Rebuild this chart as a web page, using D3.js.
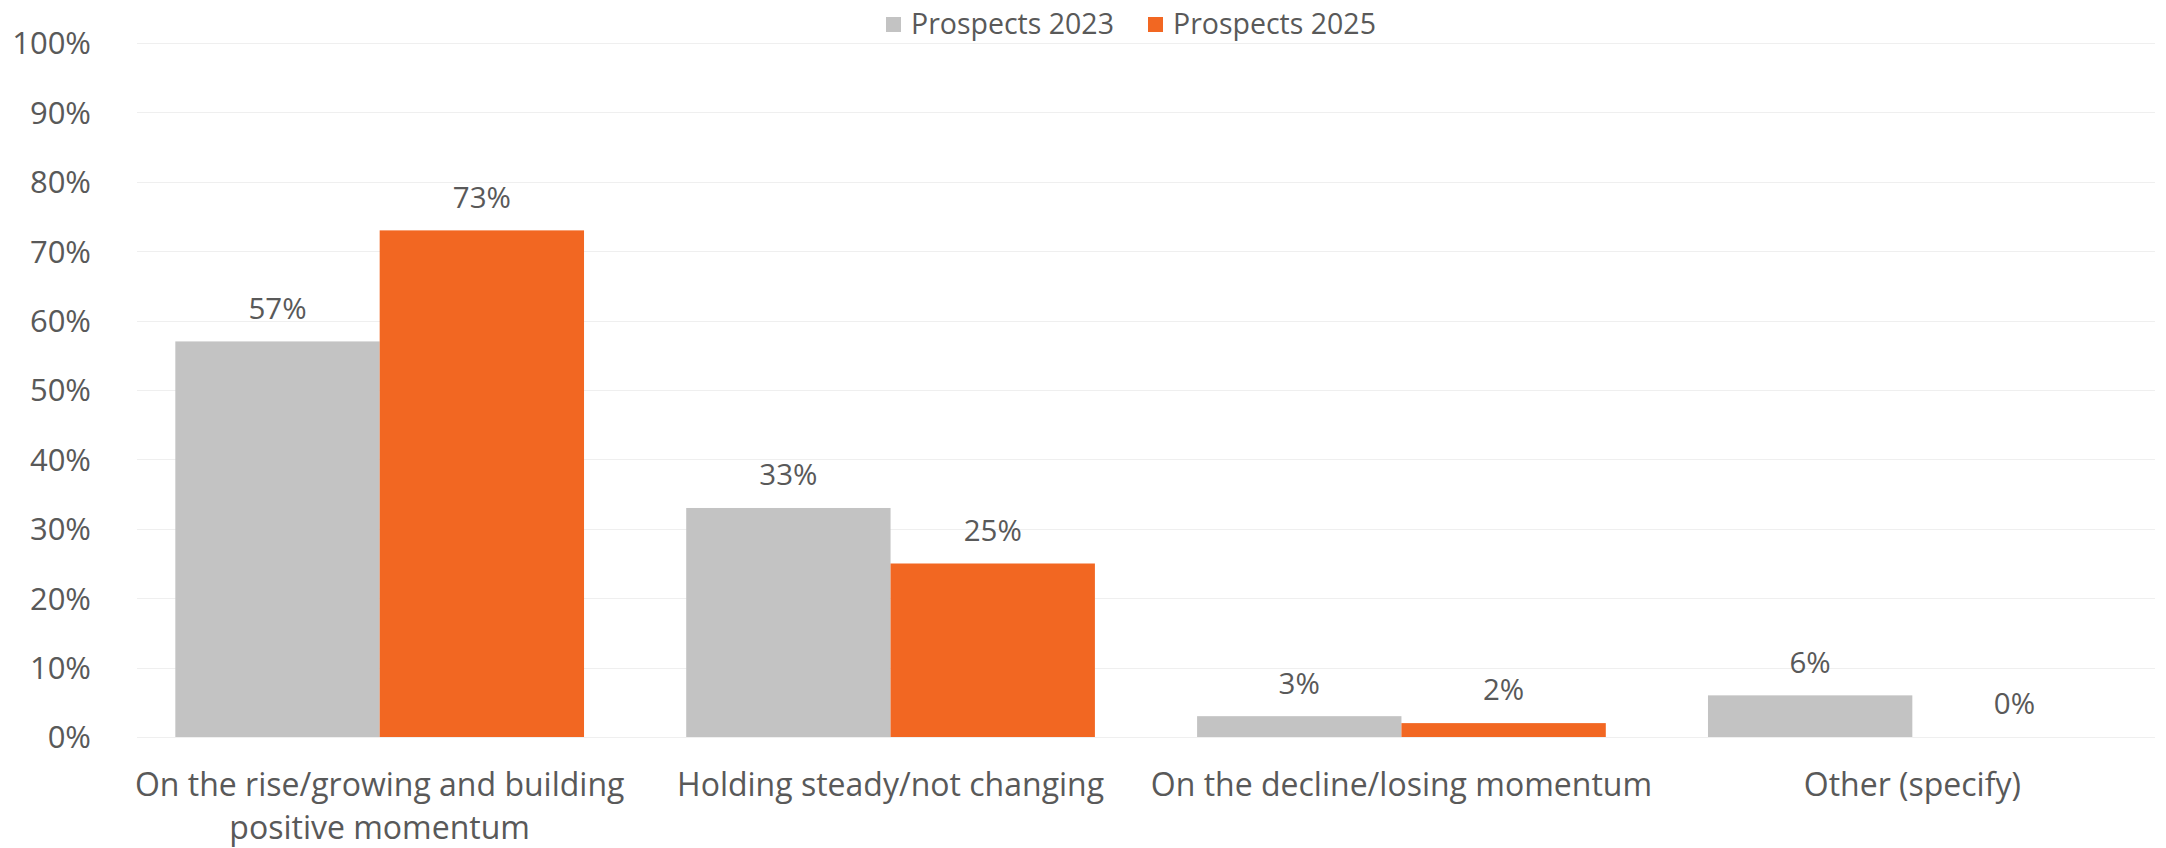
<!DOCTYPE html>
<html>
<head>
<meta charset="utf-8">
<script src="https://cdn.jsdelivr.net/npm/d3@7"></script>
<style>
  html, body { margin: 0; padding: 0; background: #ffffff; }
  svg { display: block; }
  text { font-family: "Open Sans", "Noto Sans", sans-serif; fill: #595959; }
</style>
</head>
<body>
<svg id="chart" width="2166" height="848"></svg>
<script>
// Survey categories (each may wrap onto several lines)
const categories = [
  ["On the rise/growing and building", "positive momentum"],
  ["Holding steady/not changing"],
  ["On the decline/losing momentum"],
  ["Other (specify)"]
];
const seriesNames = ["Prospects 2023", "Prospects 2025"];
const prospects2023 = [57, 33, 3, 6];
const prospects2025 = [73, 25, 2, 0];
const yTicks = [0, 10, 20, 30, 40, 50, 60, 70, 80, 90, 100];
const colors = ["#c3c3c3", "#f26722"];

const svg = d3.select("#chart");

const x0 = d3.scaleBand()
  .domain(d3.range(categories.length))
  .range([137, 2155])
  .paddingInner(0.2)
  .paddingOuter(0.075);

const x1 = d3.scaleBand()
  .domain(d3.range(seriesNames.length))
  .range([0, x0.bandwidth()])
  .padding(0);

const y = d3.scaleLinear().domain([0, 100]).range([737, 43]);

// Horizontal gridlines
svg.append("g")
  .selectAll("line")
  .data(yTicks)
  .join("line")
  .attr("x1", 137)
  .attr("x2", 2155)
  .attr("y1", d => Math.round(y(d)) + 0.5)
  .attr("y2", d => Math.round(y(d)) + 0.5)
  .attr("stroke", "#efefef")
  .attr("stroke-width", 1);

// Y axis labels
const yAxis = d3.axisLeft(y)
  .tickValues(yTicks)
  .tickFormat(d => d + "%")
  .tickSize(0)
  .tickPadding(0);
const gy = svg.append("g").attr("transform", "translate(91,0)").call(yAxis);
gy.select(".domain").remove();
gy.selectAll("text")
  .style("font-size", "31px")
  .style("font-family", "'Open Sans', sans-serif")
  .attr("fill", "#595959")
  .attr("dy", "0.35em");

// Bars
const rows = categories.map((c, i) => ({ i, values: [prospects2023[i], prospects2025[i]] }));

const groups = svg.append("g")
  .selectAll("g")
  .data(rows)
  .join("g")
  .attr("transform", d => `translate(${x0(d.i)},0)`);

groups.selectAll("rect")
  .data(d => d.values.map((v, s) => ({ v, s })))
  .join("rect")
  .attr("x", d => x1(d.s))
  .attr("width", x1.bandwidth())
  .attr("y", d => y(d.v))
  .attr("height", d => y(0) - y(d.v))
  .attr("fill", d => colors[d.s]);

// Value labels above bars
groups.selectAll("text.val")
  .data(d => d.values.map((v, s) => ({ v, s })))
  .join("text")
  .attr("class", "val")
  .attr("x", d => x1(d.s) + x1.bandwidth() / 2)
  .attr("y", d => y(d.v) - 33)
  .attr("dy", "0.35em")
  .attr("text-anchor", "middle")
  .style("font-size", "29.5px")
  .text(d => d.v + "%");

// Category labels
const catLabels = svg.append("g")
  .selectAll("text")
  .data(categories)
  .join("text")
  .attr("x", (d, i) => x0(i) + x0.bandwidth() / 2)
  .attr("y", 796)
  .attr("dy", "0.35em")
  .attr("text-anchor", "middle")
  .style("font-size", "32px");
catLabels.selectAll("tspan")
  .data(d => d)
  .join("tspan")
  .attr("x", function () { return this.parentNode.getAttribute("x"); })
  .attr("dy", (d, j) => j === 0 ? 0 : 43)
  .text(d => d);

// Legend
const legend = svg.append("g");
const legendItems = [
  { name: seriesNames[0], color: colors[0], x: 886 },
  { name: seriesNames[1], color: colors[1], x: 1148 }
];
legendItems.forEach(item => {
  legend.append("rect")
    .attr("x", item.x)
    .attr("y", 17)
    .attr("width", 15)
    .attr("height", 15)
    .attr("fill", item.color);
  legend.append("text")
    .attr("x", item.x + 25)
    .attr("y", 24)
    .attr("dy", "0.35em")
    .style("font-size", "28.5px")
    .text(item.name);
});
</script>
</body>
</html>
